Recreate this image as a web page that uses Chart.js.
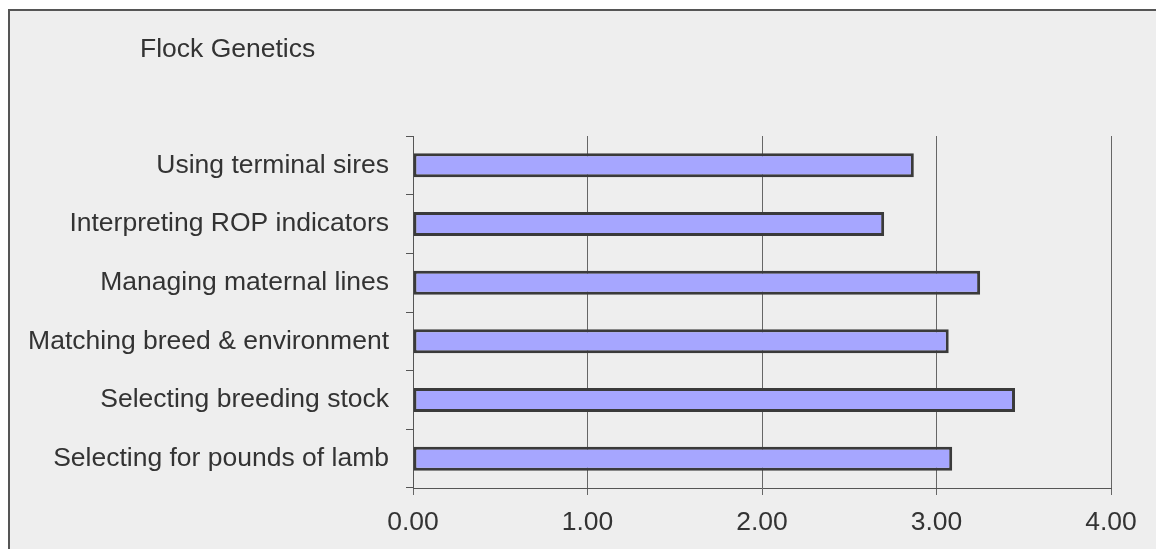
<!DOCTYPE html>
<html>
<head>
<meta charset="utf-8">
<title>Flock Genetics</title>
<script src="https://cdn.jsdelivr.net/npm/chart.js@4/dist/chart.umd.min.js"></script>
<style>
  html, body { margin: 0; padding: 0; width: 1156px; height: 549px; overflow: hidden; background: #ffffff; }
  #frame {
    position: absolute; left: 8px; top: 9px; width: 1200px; height: 600px;
    border: 2px solid #555555; background: #eeeeee;
  }
  #wrap { position: absolute; left: 0; top: 0; width: 1156px; height: 549px; }
</style>
</head>
<body>
<div id="frame"></div>
<div id="wrap"><canvas id="chart" width="1156" height="549"></canvas></div>
<script>
// Survey topics and mean scores
const categories = [
  'Using terminal sires',
  'Interpreting ROP indicators',
  'Managing maternal lines',
  'Matching breed & environment',
  'Selecting breeding stock',
  'Selecting for pounds of lamb'
];
const scores = [2.87, 2.70, 3.25, 3.07, 3.45, 3.09];
const xTickLabels = ['0.00', '1.00', '2.00', '3.00', '4.00'];
const chartTitle = 'Flock Genetics';

const FONT = '"Liberation Sans", Arial, sans-serif';
const TEXT = '#333333';
const LINE = '#555555';

// Title sits at the top left of the panel, independent of the axis layout
const titlePlugin = {
  id: 'panelTitle',
  afterDraw(chart) {
    const ctx = chart.ctx;
    ctx.save();
    ctx.font = '26.5px ' + FONT;
    ctx.fillStyle = TEXT;
    ctx.textAlign = 'left';
    ctx.textBaseline = 'alphabetic';
    ctx.fillText(chartTitle, 140, 57);
    ctx.restore();
  }
};

new Chart(document.getElementById('chart'), {
  type: 'bar',
  data: {
    labels: categories,
    datasets: [{
      data: scores,
      backgroundColor: '#a6a6ff',
      borderColor: '#3a3a3a',
      borderWidth: 3,
      borderSkipped: false,
      categoryPercentage: 1.0,
      barPercentage: 0.41
    }]
  },
  options: {
    indexAxis: 'y',
    responsive: false,
    animation: false,
    devicePixelRatio: 1,
    layout: { padding: { top: 136, right: 45, left: 0, bottom: 0 } },
    plugins: {
      legend: { display: false },
      title: { display: false },
      tooltip: { enabled: false }
    },
    scales: {
      x: {
        min: 0,
        max: 4,
        afterFit(s) { s.height = 61; },
        ticks: {
          stepSize: 1,
          color: TEXT,
          font: { family: FONT, size: 26.5 },
          padding: 12,
          callback: (v) => xTickLabels[Math.round(v)]
        },
        grid: { color: '#666666', lineWidth: 1, tickLength: 7, drawTicks: true },
        border: { display: true, color: LINE, width: 1 }
      },
      y: {
        afterFit(s) { s.width = 413; },
        ticks: {
          color: TEXT,
          font: { family: FONT, size: 26.5 },
          padding: 17
        },
        grid: { drawOnChartArea: false, drawTicks: true, tickLength: 7, color: LINE, offset: true },
        border: { display: true, color: LINE, width: 1 }
      }
    }
  },
  plugins: [titlePlugin]
});
</script>
</body>
</html>
